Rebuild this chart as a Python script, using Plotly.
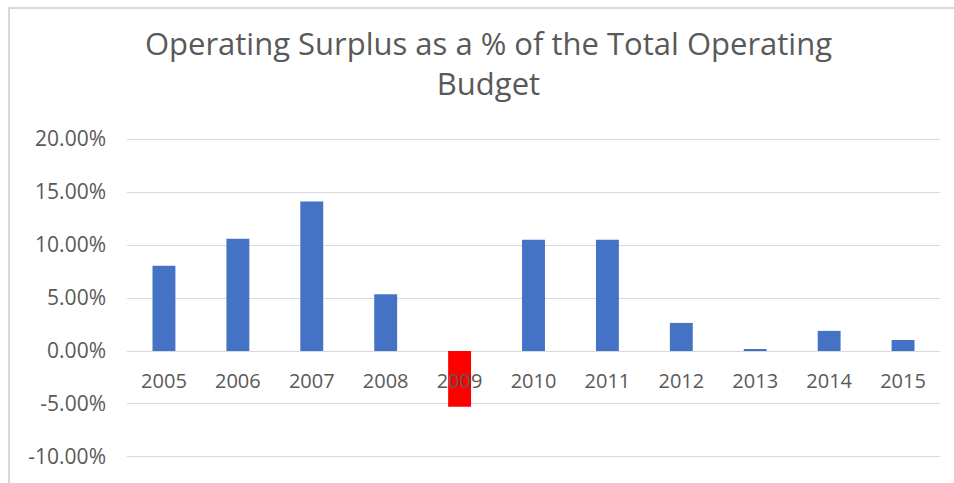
import plotly.graph_objects as go

years = ["2005", "2006", "2007", "2008", "2009", "2010", "2011", "2012", "2013", "2014", "2015"]
surplus_pct = [0.0804, 0.1060, 0.1410, 0.0536, -0.0527, 0.1050, 0.1050, 0.0265, 0.0016, 0.0190, 0.0104]
bar_colors = ["#4472C4", "#4472C4", "#4472C4", "#4472C4", "#FF0000", "#4472C4",
              "#4472C4", "#4472C4", "#4472C4", "#4472C4", "#4472C4"]
y_ticks = [-0.10, -0.05, 0.0, 0.05, 0.10, 0.15, 0.20]
y_tick_labels = ["-10.00%", "-5.00%", "0.00%", "5.00%", "10.00%", "15.00%", "20.00%"]

W, H = 954, 483
ml, mr, mt, mb = 127, 14, 137, 24
pw, ph = W - ml - mr, H - mt - mb
pad = 0.0019
y0, y1 = -0.10 - pad, 0.20 + pad
zero_frac = (0 - y0) / (y1 - y0)

fig = go.Figure(go.Bar(x=years, y=surplus_pct, marker=dict(color=bar_colors, line=dict(width=0)),
                       width=0.31))

fig.update_layout(
    width=W, height=H,
    margin=dict(l=ml, r=mr, t=mt, b=mb),
    paper_bgcolor="white", plot_bgcolor="white",
    font=dict(family="Open Sans, sans-serif", color="#595959"),
    title=dict(text="Operating Surplus as a % of the Total Operating<br>Budget",
               x=0.512, xref="container", xanchor="center", y=1 - 55 / H, yanchor="top",
               font=dict(size=31, color="#595959", family="Open Sans, sans-serif")),
    showlegend=False,
    xaxis=dict(anchor="free", position=zero_frac, showline=False, showgrid=False, zeroline=False,
               ticks="", tickfont=dict(size=20, color="#595959"), ticklabelstandoff=16),
    yaxis=dict(range=[y0, y1], tickvals=y_ticks, ticktext=y_tick_labels,
               showgrid=True, gridcolor="#d9d9d9", gridwidth=1,
               zeroline=True, zerolinecolor="#d9d9d9", zerolinewidth=1,
               showline=False, ticks="", tickfont=dict(size=21, color="#595959"),
               ticklabelstandoff=20),
    shapes=[dict(type="rect", xref="paper", yref="paper",
                 x0=(9 - ml) / pw, x1=(W + 10 - ml) / pw,
                 y0=(H - mb - (H + 10)) / ph, y1=(H - mb - 8) / ph,
                 line=dict(color="#d9d9d9", width=2), fillcolor="rgba(0,0,0,0)", layer="below")],
)

fig.write_html("out.html", config={"displayModeBar": False},
               post_script="document.body.style.margin='0';")
